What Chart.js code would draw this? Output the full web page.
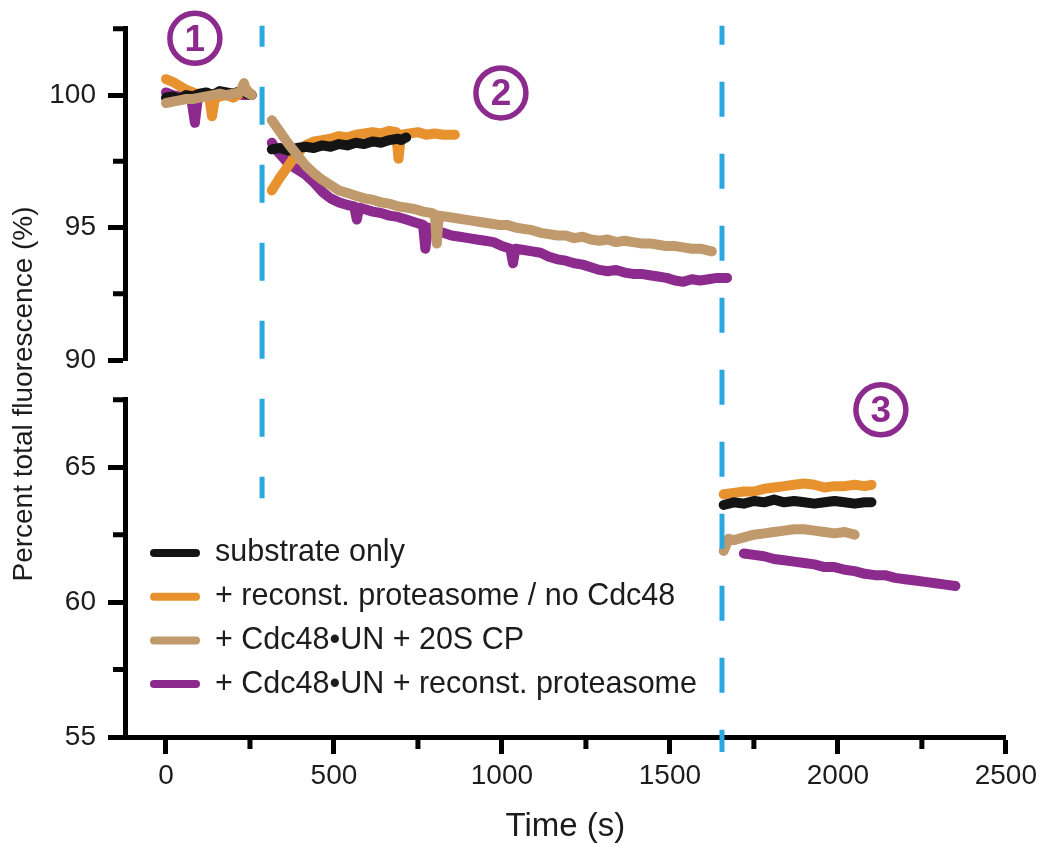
<!DOCTYPE html>
<html>
<head>
<meta charset="utf-8">
<title>Percent total fluorescence</title>
<script src="https://cdn.jsdelivr.net/npm/chart.js@4.4.1/dist/chart.umd.min.js"></script>
<style>
html,body{margin:0;padding:0;background:#fff;}
#wrap{width:1042px;height:847px;}
</style>
</head>
<body>
<div id="wrap"><canvas id="fluoChart" width="1042" height="847"></canvas></div>
<script>
/* Fluorescence traces - broken y axis */
const seriesNames=['substrate only','+ reconst. proteasome / no Cdc48','+ Cdc48\u2022UN + 20S CP','+ Cdc48\u2022UN + reconst. proteasome'];
const seriesColors=['#141414','#e8922f','#c09a6c','#8c2b8d'];
const purple='#8c2b8d', dashBlue='#2aa7de';

// axis ticks
const xTicks=[0,500,1000,1500,2000,2500];
const xMinor=[250,750,1250,1750,2250];
const yTopTicks=[90,95,100];
const yTopMinor=[92.5,97.5,102.5];
const yBotTicks=[55,60,65];
const yBotMinor=[57.5,62.5,67.5];

// additions (s) and stage markers
const eventTimes=[286,1655];
const stageLabels=['1','2','3'];
const stageT=[86,997,2128];
const stageY=[102.14,100.08,67.13];
const stageAxis=['yTop','yTop','yBot'];

// substrate only
const blackT1=[0,20,40,60,80,100,120,140,160,180,200,220,240,255];
const blackV1=[99.9,99.95,99.85,100.0,99.95,100.05,100.1,100.0,100.15,100.1,100.05,100.15,100.05,100.0];
const blackT2=[315,340,365,390,415,440,465,490,515,540,565,590,615,640,665,690,700,715];
const blackV2=[97.95,98.0,97.9,98.0,98.05,98.0,98.1,98.05,98.15,98.1,98.2,98.15,98.25,98.2,98.3,98.35,98.3,98.4];
const blackT3=[1660,1690,1720,1750,1780,1810,1840,1870,1900,1930,1960,1990,2020,2050,2080,2100];
const blackV3=[63.6,63.7,63.65,63.75,63.7,63.8,63.7,63.75,63.7,63.65,63.7,63.75,63.7,63.65,63.7,63.7];

// + reconst. proteasome / no Cdc48
const orangeT1=[0,20,40,60,80,100,120,130,137,145,160,180,200,220,240,255];
const orangeV1=[100.6,100.5,100.35,100.2,100.1,100.0,99.95,99.8,99.2,99.85,99.95,100.0,99.9,100.05,100.2,100.0];
const orangeT2=[315,340,365,390,415,440,465,490,515,540,565,590,615,640,665,685,692,700,725,750,775,800,825,850,860];
const orangeV2=[96.4,96.9,97.35,97.8,98.1,98.25,98.3,98.35,98.45,98.4,98.5,98.55,98.6,98.55,98.65,98.6,97.6,98.5,98.55,98.6,98.5,98.55,98.5,98.5,98.5];
const orangeT3=[1660,1690,1720,1750,1780,1810,1840,1870,1900,1930,1960,1990,2020,2050,2080,2100];
const orangeV3=[64.0,64.05,64.1,64.1,64.2,64.25,64.3,64.35,64.4,64.35,64.25,64.3,64.3,64.35,64.3,64.35];

// + Cdc48-UN + 20S CP
const tanT1=[0,20,40,60,80,100,120,140,160,180,200,220,232,240,255];
const tanV1=[99.7,99.75,99.8,99.85,99.85,99.9,99.95,100.0,100.05,100.0,100.05,100.1,100.45,100.1,100.0];
const tanT2=[315,340,365,390,415,440,465,490,515,540,565,590,615,640,665,690,715,740,765,790,800,806,812,840,865,890,915,940,965,990,1015,1040,1065,1090,1115,1140,1165,1190,1215,1240,1265,1290,1315,1340,1365,1390,1415,1440,1465,1490,1515,1540,1565,1590,1625];
const tanV2=[99.05,98.6,98.15,97.75,97.35,97.05,96.8,96.6,96.4,96.3,96.2,96.1,96.05,95.95,95.9,95.8,95.75,95.7,95.6,95.55,95.5,94.4,95.45,95.4,95.35,95.3,95.25,95.2,95.15,95.1,95.1,95.0,94.95,94.9,94.8,94.75,94.7,94.7,94.6,94.65,94.55,94.5,94.55,94.45,94.5,94.45,94.4,94.4,94.35,94.3,94.3,94.25,94.2,94.2,94.1];
const tanT3=[1660,1675,1690,1720,1750,1780,1810,1840,1870,1900,1930,1960,1990,2020,2050];
const tanV3=[61.9,62.35,62.3,62.4,62.5,62.55,62.6,62.65,62.7,62.7,62.65,62.6,62.55,62.6,62.5];

// + Cdc48-UN + reconst. proteasome
const purpleT1=[0,20,40,60,75,86,95,110,130,150,170,190,210,230,255];
const purpleV1=[100.1,100.0,99.95,99.9,99.9,98.95,99.9,99.95,100.0,100.0,100.05,100.0,100.05,100.0,100.0];
const purpleT2=[315,330,348,365,390,415,440,465,490,515,540,560,568,575,590,615,640,665,690,715,740,765,772,780,800,825,850,875,900,925,950,975,1000,1025,1033,1040,1065,1090,1115,1140,1165,1190,1215,1240,1265,1290,1315,1340,1365,1390,1415,1440,1465,1490,1515,1540,1565,1590,1615,1640,1670];
const purpleV2=[98.2,97.9,97.65,97.4,97.2,97.0,96.7,96.35,96.1,95.95,95.85,95.8,95.3,95.75,95.7,95.6,95.55,95.45,95.4,95.3,95.2,95.1,94.2,95.0,94.9,94.8,94.7,94.65,94.6,94.55,94.5,94.45,94.3,94.2,93.65,94.2,94.15,94.1,94.05,93.9,93.8,93.75,93.65,93.6,93.5,93.4,93.35,93.4,93.3,93.25,93.25,93.2,93.15,93.1,93.0,92.95,93.05,93.0,93.05,93.1,93.1];
const purpleT3=[1720,1750,1780,1810,1840,1870,1900,1930,1960,1990,2020,2050,2080,2110,2140,2170,2200,2230,2260,2290,2320,2350];
const purpleV3=[61.8,61.75,61.7,61.6,61.55,61.5,61.45,61.4,61.3,61.3,61.2,61.15,61.05,61.0,61.0,60.9,60.85,60.8,60.75,60.7,60.65,60.6];

function pts(tArr,vArr){return tArr.map((t,i)=>({x:t,y:vArr[i]}));}
function upper(t1,v1,t2,v2){return pts(t1,v1).concat([{x:(t1[t1.length-1]+t2[0])/2,y:null}],pts(t2,v2));}

const upperData=[upper(blackT1,blackV1,blackT2,blackV2),upper(orangeT1,orangeV1,orangeT2,orangeV2),upper(tanT1,tanV1,tanT2,tanV2),upper(purpleT1,purpleV1,purpleT2,purpleV2)];
const lowerData=[pts(blackT3,blackV3),pts(orangeT3,orangeV3),pts(tanT3,tanV3),pts(purpleT3,purpleV3)];
const drawOrder=[1,2,0,3]; // tan on top, purple at the back

const datasets=[];
seriesNames.forEach((n,i)=>{
  const base={label:n,borderColor:seriesColors[i],backgroundColor:seriesColors[i],borderWidth:10,pointRadius:0,tension:0,fill:false,spanGaps:false,borderCapStyle:'round',borderJoinStyle:'round',order:drawOrder[i]};
  datasets.push({...base,data:upperData[i],yAxisID:'yTop'});
  datasets.push({...base,data:lowerData[i],yAxisID:'yBot'});
});

const FF='"Liberation Sans", Arial, sans-serif';
const tickFont={family:FF,size:28};
const txt='#1c1c1c';

const extras={
  id:'extras',
  afterDatasetsDraw(chart){
    const {ctx,chartArea,scales}=chart;
    const x=scales.x,yB=scales.yBot;
    ctx.save();
    ctx.strokeStyle=dashBlue;ctx.lineWidth=5;ctx.lineCap='butt';
    // first addition
    let px=x.getPixelForValue(eventTimes[0]);
    ctx.setLineDash([38,40]);ctx.lineDashOffset=17;
    ctx.beginPath();ctx.moveTo(px,chartArea.top-3);ctx.lineTo(px,yB.getPixelForValue(63.85));ctx.stroke();
    // second addition
    px=x.getPixelForValue(eventTimes[1]);
    ctx.setLineDash([35,37]);ctx.lineDashOffset=16;
    ctx.beginPath();ctx.moveTo(px,chartArea.top-3);ctx.lineTo(px,chartArea.bottom+15);ctx.stroke();
    ctx.restore();
  },
  afterDraw(chart){
    const {ctx,chartArea,scales}=chart;
    const x=scales.x,yT=scales.yTop,yB=scales.yBot;
    ctx.save();
    // minor ticks
    ctx.strokeStyle='#000';ctx.lineWidth=5;ctx.lineCap='butt';
    ctx.beginPath();
    xMinor.forEach(v=>{const p=x.getPixelForValue(v);ctx.moveTo(p,x.top);ctx.lineTo(p,x.top+12);});
    yTopMinor.forEach(v=>{const p=yT.getPixelForValue(v);ctx.moveTo(yT.right-12,p);ctx.lineTo(yT.right+2,p);});
    yBotMinor.forEach(v=>{const p=yB.getPixelForValue(v);ctx.moveTo(yB.right-12,p);ctx.lineTo(yB.right+2,p);});
    ctx.stroke();
    // y title
    ctx.save();
    ctx.translate(24,394);ctx.rotate(-Math.PI/2);
    ctx.font='28px '+FF;ctx.fillStyle=txt;ctx.textAlign='center';ctx.textBaseline='middle';
    ctx.fillText('Percent total fluorescence (%)',0,0);
    ctx.restore();
    // legend
    const lx=chartArea.left+25,ly0=chartArea.bottom-184,step=43.7;
    seriesNames.forEach((n,i)=>{
      const yy=ly0+i*step;
      ctx.strokeStyle=seriesColors[i];ctx.lineWidth=8;ctx.lineCap='round';
      ctx.beginPath();ctx.moveTo(lx+4,yy);ctx.lineTo(lx+46,yy);ctx.stroke();
      ctx.font='30.5px '+FF;ctx.fillStyle=txt;ctx.textAlign='left';ctx.textBaseline='middle';
      ctx.fillText(n,lx+65,yy);
    });
    // stage markers
    stageLabels.forEach((l,i)=>{
      const cx=x.getPixelForValue(stageT[i]),cy=scales[stageAxis[i]].getPixelForValue(stageY[i]);
      ctx.strokeStyle=purple;ctx.lineWidth=5.5;
      ctx.beginPath();ctx.arc(cx,cy,25,0,Math.PI*2);ctx.stroke();
      ctx.font='bold 37px '+FF;ctx.fillStyle=purple;ctx.textAlign='center';ctx.textBaseline='middle';
      ctx.fillText(l,cx,cy+2);
    });
    ctx.restore();
  }
};

const yCommon={
  type:'linear',position:'left',stack:'fluo',
  afterFit:s=>{s.width=125;},
  ticks:{font:tickFont,color:txt,padding:12,callback:v=>String(v)},
  grid:{drawOnChartArea:false,tickLength:17,tickWidth:5,tickColor:'#000'},
  border:{display:true,color:'#000',width:5}
};

new Chart(document.getElementById('fluoChart'),{
  type:'line',
  data:{datasets},
  options:{
    responsive:false,animation:false,devicePixelRatio:1,events:[],
    layout:{padding:{top:25,right:36,bottom:0,left:0}},
    plugins:{legend:{display:false},tooltip:{enabled:false}},
    scales:{
      x:{type:'linear',position:'bottom',min:-122,max:2500,
        afterBuildTicks:s=>{s.ticks=xTicks.map(v=>({value:v}));},
        afterFit:s=>{s.height=110;},
        ticks:{font:tickFont,color:txt,padding:5,callback:v=>String(v)},
        grid:{drawOnChartArea:false,tickLength:17,tickWidth:5,tickColor:'#000'},
        border:{display:true,color:'#000',width:5},
        title:{display:true,text:'Time (s)',font:{family:FF,size:33},color:txt,padding:{top:0,bottom:0}}},
      yBot:{...yCommon,stackWeight:339,min:55,max:67.5,
        afterBuildTicks:s=>{s.ticks=yBotTicks.map(v=>({value:v}));}},
      yGap:{type:'linear',position:'left',stack:'fluo',stackWeight:40,
        afterFit:s=>{s.width=125;},
        ticks:{display:false},grid:{display:false},border:{display:false}},
      yTop:{...yCommon,stackWeight:333,min:90,max:102.5,
        afterBuildTicks:s=>{s.ticks=yTopTicks.map(v=>({value:v}));}}
    }
  },
  plugins:[extras]
});
</script>
</body>
</html>
